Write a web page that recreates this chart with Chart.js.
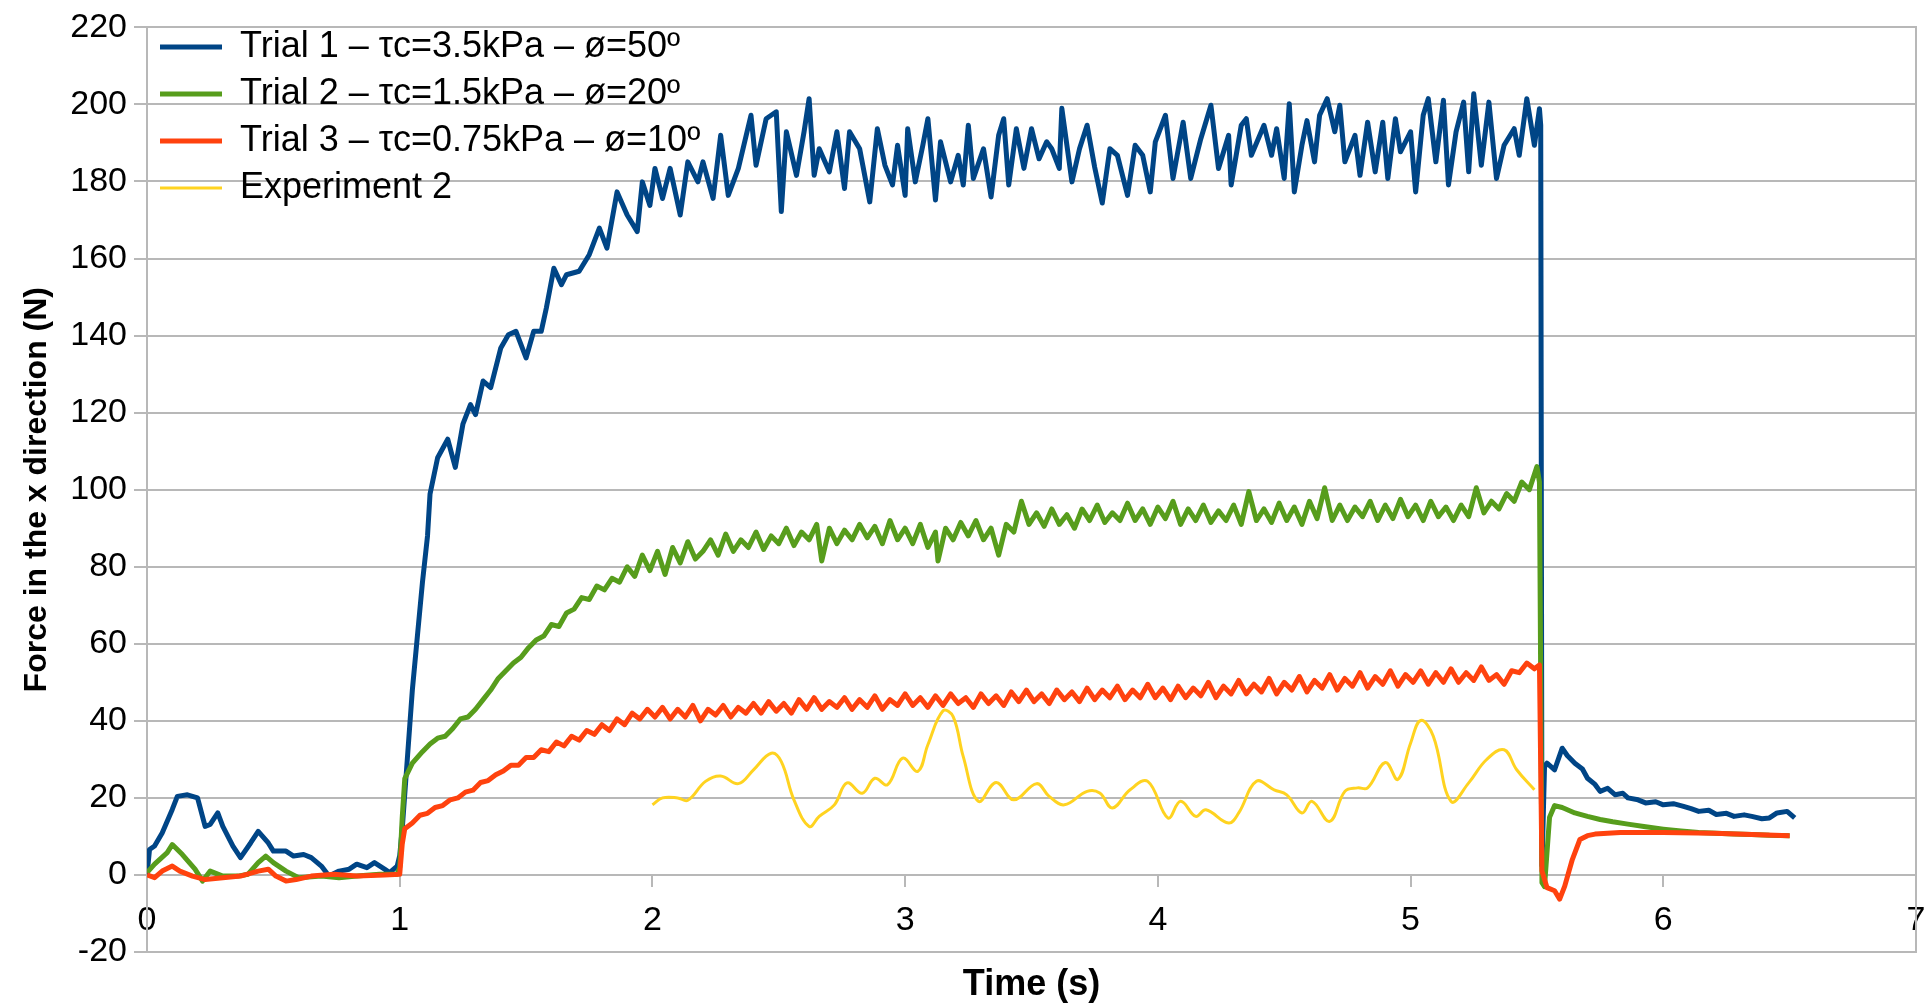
<!DOCTYPE html>
<html>
<head>
<meta charset="utf-8">
<script src="https://cdn.jsdelivr.net/npm/chart.js@4.4.1/dist/chart.umd.min.js"></script>
<style>
  html, body { margin: 0; padding: 0; background: #fff; }
  #wrap { width: 1931px; height: 1007px; }
</style>
</head>
<body>
<div id="wrap"><canvas id="forceChart"></canvas></div>
<script>
// Series names (legend)
const seriesNames = [
    'Trial 1 – τc=3.5kPa – ø=50º',
    'Trial 2 – τc=1.5kPa – ø=20º',
    'Trial 3 – τc=0.75kPa – ø=10º',
    'Experiment 2'
];

// [time (s), force (N)]
const trial1 = [
    [0,0],[0.01,6.6],[0.03,7.5],[0.06,10.9],[0.10,17.0],[0.12,20.4],[0.16,20.8],[0.20,20.0],[0.23,12.6],[0.25,13.1],
    [0.28,16.1],[0.30,12.6],[0.34,7.5],[0.37,4.5],[0.41,8.3],[0.44,11.3],[0.48,8.3],[0.50,6.2],[0.55,6.2],[0.58,4.9],
    [0.62,5.3],[0.65,4.5],[0.69,2.3],[0.72,-0.3],[0.76,1.0],[0.80,1.5],[0.83,2.8],[0.87,1.9],[0.90,3.2],[0.94,1.5],
    [0.96,0.6],[0.99,2.3],[1.00,5],[1.01,12],[1.03,30],[1.05,48],[1.07,62],[1.09,76],[1.11,88],[1.12,98.9],
    [1.15,108.3],[1.19,113.1],[1.22,105.8],[1.25,117.0],[1.28,122.1],[1.30,119.5],[1.33,128.2],[1.36,126.5],[1.40,136.8],[1.43,140.2],
    [1.46,141.1],[1.50,134.2],[1.53,141.1],[1.56,141.1],[1.58,147.1],[1.61,157.5],[1.64,153.2],[1.66,155.8],[1.71,156.7],[1.75,161.0],
    [1.79,167.9],[1.82,162.7],[1.86,177.3],[1.90,171.3],[1.94,167.0],[1.96,179.9],[1.99,173.8],[2.01,183.4],[2.04,175.6],[2.07,183.4],
    [2.11,171.3],[2.14,185.1],[2.18,179.9],[2.20,185.1],[2.24,175.6],[2.27,192.0],[2.30,176.4],[2.34,183.4],[2.39,197.2],[2.41,184.2],
    [2.45,196.3],[2.49,198.1],[2.51,172.2],[2.53,192.9],[2.57,181.6],[2.60,192.9],[2.62,201.5],[2.64,181.6],[2.66,188.5],[2.70,182.5],
    [2.73,192.9],[2.76,178.2],[2.78,192.9],[2.82,188.5],[2.86,174.7],[2.89,193.7],[2.92,184.2],[2.95,179.1],[2.97,189.4],[3.00,176.4],
    [3.01,193.7],[3.04,179.9],[3.07,189.4],[3.09,196.3],[3.12,175.2],[3.14,190.3],[3.18,179.9],[3.21,186.8],[3.23,179.1],[3.25,194.6],
    [3.27,180.8],[3.31,188.5],[3.34,176.0],[3.37,192.0],[3.39,196.3],[3.41,179.1],[3.44,193.7],[3.47,183.4],[3.50,193.7],[3.53,185.9],
    [3.56,190.3],[3.58,188.5],[3.61,183.4],[3.62,199.0],[3.66,179.9],[3.69,188.5],[3.72,194.6],[3.75,183.7],[3.78,174.4],[3.81,188.5],
    [3.84,186.8],[3.88,176.4],[3.91,189.4],[3.94,186.8],[3.97,177.3],[3.99,190.3],[4.03,197.2],[4.06,180.8],[4.10,195.4],[4.13,180.8],
    [4.17,191.1],[4.21,199.8],[4.24,183.4],[4.28,192.0],[4.29,179.1],[4.33,194.6],[4.35,196.3],[4.37,186.8],[4.42,194.6],[4.45,186.8],
    [4.47,193.7],[4.50,180.8],[4.52,200.2],[4.54,177.3],[4.57,189.4],[4.59,195.8],[4.62,185.1],[4.64,197.2],[4.67,201.5],[4.70,192.9],
    [4.72,199.8],[4.74,185.1],[4.78,192.0],[4.80,181.6],[4.83,195.4],[4.86,182.5],[4.89,195.4],[4.91,180.8],[4.94,196.3],[4.96,187.7],
    [5.00,192.9],[5.02,177.3],[5.05,197.2],[5.07,201.5],[5.10,185.1],[5.13,201.1],[5.15,179.1],[5.18,192.9],[5.21,200.6],[5.23,182.5],
    [5.25,202.8],[5.28,184.2],[5.31,200.6],[5.34,180.8],[5.37,189.4],[5.41,193.7],[5.43,186.8],[5.46,201.5],[5.49,189.4],[5.51,198.9],
    [5.515,194.6],[5.52,2.3],[5.53,28],[5.54,29],[5.57,27.3],[5.60,32.9],[5.62,31],[5.65,29],[5.68,27.5],[5.70,25.1],
    [5.73,23.5],[5.75,21.7],[5.78,22.5],[5.81,20.8],[5.84,21.2],[5.86,20.0],[5.90,19.5],[5.93,18.7],[5.97,19.0],[6.00,18.2],
    [6.04,18.5],[6.08,17.8],[6.11,17.2],[6.14,16.5],[6.18,16.8],[6.21,15.7],[6.25,16.0],[6.28,15.2],[6.32,15.6],[6.35,15.2],
    [6.39,14.6],[6.42,14.8],[6.45,16.1],[6.49,16.5],[6.52,14.8]
];

const trial2 = [
    [0,0.6],[0.03,2.8],[0.08,5.8],[0.10,7.9],[0.14,5.3],[0.19,1.5],[0.22,-1.6],[0.25,1.0],[0.30,-0.3],[0.36,-0.3],
    [0.40,0.2],[0.44,3.2],[0.47,4.9],[0.50,3.2],[0.55,1.0],[0.60,-0.7],[0.69,-0.3],[0.76,-0.7],[0.83,-0.3],[0.92,0.2],
    [0.99,0.2],[1.00,2],[1.01,15],[1.02,25],[1.05,29],[1.09,32],[1.12,34],[1.15,35.5],[1.18,36],[1.21,38],
    [1.24,40.5],[1.27,41],[1.30,43],[1.33,45.5],[1.36,48],[1.39,51],[1.42,53],[1.45,55],[1.48,56.5],[1.51,59],
    [1.54,61],[1.57,62],[1.60,65],[1.63,64.5],[1.66,68],[1.69,69],[1.72,72],[1.75,71.5],[1.78,75],[1.81,74],
    [1.84,77],[1.87,76],[1.90,80],[1.93,77.5],[1.96,83],[1.99,79],[2.02,84],[2.05,78],[2.08,85],[2.11,81],
    [2.14,86.5],[2.17,82],[2.20,84],[2.23,87],[2.26,83],[2.29,88.5],[2.32,84],[2.35,87],[2.38,85],[2.41,89],
    [2.44,84.5],[2.47,88],[2.50,86],[2.53,90],[2.56,85.5],[2.59,89],[2.62,87],[2.65,91],[2.67,81.5],[2.70,90],
    [2.73,86],[2.76,89.5],[2.79,87],[2.82,91],[2.85,87.5],[2.88,90.5],[2.91,86],[2.94,92],[2.97,87],[3.00,90],
    [3.03,86],[3.06,91],[3.09,85],[3.12,89],[3.13,81.5],[3.16,90],[3.19,87],[3.22,91.5],[3.25,88],[3.28,92],
    [3.31,87],[3.34,90],[3.37,83],[3.40,91],[3.43,89],[3.46,97],[3.49,91],[3.52,94],[3.55,90.5],[3.58,95],
    [3.61,91],[3.64,93.5],[3.67,90],[3.70,95],[3.73,92],[3.76,96],[3.79,91.5],[3.82,94],[3.85,92],[3.88,96.5],
    [3.91,92],[3.94,95],[3.97,91],[4.00,95.5],[4.03,92.5],[4.06,97],[4.09,91],[4.12,95],[4.15,92],[4.18,96],
    [4.21,91.5],[4.24,94.5],[4.27,92],[4.30,96],[4.33,91],[4.36,99.5],[4.39,92],[4.42,95],[4.45,91.5],[4.48,96.5],
    [4.51,92],[4.54,95.5],[4.57,91],[4.60,97],[4.63,92.5],[4.66,100.5],[4.69,92],[4.72,96],[4.75,92],[4.78,95.5],
    [4.81,93],[4.84,97],[4.87,92],[4.90,96],[4.93,92.5],[4.96,97.5],[4.99,93],[5.02,96],[5.05,92],[5.08,97],
    [5.11,93],[5.14,95.5],[5.17,92],[5.20,96],[5.23,93],[5.26,100.5],[5.29,94],[5.32,97],[5.35,95],[5.38,99],
    [5.41,97],[5.44,102],[5.47,100],[5.50,106],[5.51,102],[5.52,-2],[5.53,-3],[5.55,15],[5.57,18],[5.60,17.5],
    [5.65,16.1],[5.70,15.2],[5.75,14.4],[5.80,13.8],[5.86,13.2],[5.93,12.5],[6.00,11.9],[6.07,11.4],[6.14,11.0],[6.21,10.8],
    [6.28,10.6],[6.35,10.5],[6.42,10.3],[6.50,10.2]
];

const trial3 = [
    [0,0],[0.03,-0.7],[0.06,1.0],[0.10,2.3],[0.13,1.0],[0.18,-0.3],[0.23,-1.2],[0.30,-0.7],[0.37,-0.3],[0.44,1.0],
    [0.48,1.5],[0.51,-0.3],[0.55,-1.6],[0.59,-1.2],[0.65,-0.3],[0.74,0.2],[0.83,-0.3],[0.94,0],[1.00,0.2],[1.01,8],
    [1.02,12],[1.05,13.5],[1.08,15.5],[1.11,16],[1.14,17.5],[1.17,18],[1.20,19.5],[1.23,20],[1.26,21.5],[1.29,22],
    [1.32,24],[1.35,24.5],[1.38,26],[1.41,27],[1.44,28.5],[1.47,28.5],[1.50,30.5],[1.53,30.5],[1.56,32.5],[1.59,32],
    [1.62,34.5],[1.65,33.5],[1.68,36],[1.71,35],[1.74,37.5],[1.77,36.5],[1.80,39],[1.83,37.5],[1.86,40.5],[1.89,39],
    [1.92,42],[1.95,40.5],[1.98,43],[2.01,41],[2.04,43.5],[2.07,40.5],[2.10,43],[2.13,41],[2.16,44],[2.19,40],
    [2.22,43],[2.25,41.5],[2.28,44],[2.31,41],[2.34,43.5],[2.37,42],[2.40,44.5],[2.43,42],[2.46,45],[2.49,42.5],
    [2.52,44.5],[2.55,42],[2.58,45.5],[2.61,43],[2.64,46],[2.67,43],[2.70,45],[2.73,43.5],[2.76,46],[2.79,43],
    [2.82,45.5],[2.85,43.5],[2.88,46.5],[2.91,43],[2.94,45.5],[2.97,44],[3.00,47],[3.03,44],[3.06,46],[3.09,43.5],
    [3.12,46.5],[3.15,44],[3.18,47],[3.21,44.5],[3.24,46],[3.27,43.5],[3.30,47],[3.33,44.5],[3.36,46.5],[3.39,44],
    [3.42,47.5],[3.45,45],[3.48,48],[3.51,45],[3.54,47],[3.57,44.5],[3.60,48],[3.63,45.5],[3.66,47.5],[3.69,45],
    [3.72,48.5],[3.75,45.5],[3.78,48],[3.81,46],[3.84,49],[3.87,45.5],[3.90,48],[3.93,46],[3.96,49.5],[3.99,46],
    [4.02,48.5],[4.05,45.5],[4.08,49],[4.11,46],[4.14,48.5],[4.17,46.5],[4.20,50],[4.23,46],[4.26,49],[4.29,47],
    [4.32,50.5],[4.35,47],[4.38,49.5],[4.41,47.5],[4.44,51],[4.47,47],[4.50,50],[4.53,48],[4.56,51.5],[4.59,47.5],
    [4.62,50.5],[4.65,48.5],[4.68,52],[4.71,48],[4.74,51],[4.77,49],[4.80,52.5],[4.83,48.5],[4.86,51.5],[4.89,49.5],
    [4.92,53],[4.95,49],[4.98,52],[5.01,50],[5.04,53],[5.07,49.5],[5.10,52.5],[5.13,50],[5.16,53.5],[5.19,50],
    [5.22,52.5],[5.25,50.5],[5.28,54],[5.31,50.5],[5.34,52],[5.37,49.5],[5.40,53],[5.43,52.5],[5.46,55],[5.49,53.5],
    [5.51,54.5],[5.52,1],[5.54,-3.3],[5.57,-4.1],[5.59,-6.3],[5.61,-2.9],[5.64,4],[5.67,9.2],[5.70,10.2],[5.73,10.6],
    [5.83,11],[6.00,11],[6.20,10.8],[6.35,10.5],[6.50,10.2]
];

const experiment2 = [
    [2.00,18.2],[2.04,20.0],[2.10,20.0],[2.14,19.4],[2.21,24.3],[2.27,25.7],[2.34,23.7],[2.40,27.3],[2.47,31.6],[2.51,29.4],
    [2.56,19.5],[2.62,12.6],[2.66,15.2],[2.72,18.2],[2.77,23.9],[2.83,21.2],[2.88,25.1],[2.93,23.4],[2.99,30.3],[3.05,26.9],
    [3.09,33.8],[3.15,42.6],[3.19,41.1],[3.23,30.7],[3.29,19.1],[3.36,24.0],[3.43,19.5],[3.52,23.7],[3.57,20.4],[3.63,18.2],
    [3.72,21.7],[3.77,21.3],[3.82,17.4],[3.89,22.1],[3.96,24.3],[4.04,14.8],[4.09,19.1],[4.15,15.2],[4.19,16.9],[4.28,13.5],
    [4.32,16.1],[4.39,24.3],[4.46,22.1],[4.51,20.8],[4.57,16.1],[4.61,19.1],[4.68,13.9],[4.74,21.7],[4.79,22.6],[4.83,22.6],
    [4.90,29.2],[4.95,24.8],[5.00,34.2],[5.04,40.1],[5.09,36.0],[5.16,19.1],[5.23,23.9],[5.30,29.9],[5.37,32.5],[5.42,27.3],
    [5.49,22.1]
];

// Axis ranges
const xMin = 0, xMax = 7, xStep = 1;
const yMin = -20, yMax = 220, yStep = 20;

const seriesColors = ['#004586', '#579d1c', '#ff420e', '#ffd320'];
const seriesWidths = [5, 5, 5, 3];
const gridGray = '#b8b8b8';

Chart.defaults.font.family = '"Liberation Sans", Arial, sans-serif';
Chart.defaults.font.size = 34;
Chart.defaults.color = '#000';

function toPoints(pairs) {
    return pairs.map(p => ({ x: p[0], y: p[1] }));
}

const allSeries = [trial1, trial2, trial3, experiment2];
const datasets = allSeries.map((s, i) => ({
    label: seriesNames[i],
    data: toPoints(s),
    borderColor: seriesColors[i],
    backgroundColor: seriesColors[i],
    borderWidth: seriesWidths[i],
    pointRadius: 0,
    pointStyle: 'line',
    tension: i === 3 ? 0.4 : 0,
    borderJoinStyle: 'round',
    fill: false,
    order: 4 - i
}));

// legend sits inside the plot, top left
const legendPlace = {
    id: 'legendPlace',
    afterLayout(chart) {
        chart.legend.top = 18;
        chart.legend.left = chart.chartArea.left + 2;
    }
};

new Chart(document.getElementById('forceChart'), {
    type: 'line',
    data: { datasets },
    plugins: [legendPlace],
    options: {
        responsive: true,
        maintainAspectRatio: false,
        animation: false,
        layout: { padding: { top: 24, right: 15, left: 0, bottom: 0 } },
        plugins: {
            legend: {
                position: 'chartArea',
                align: 'start',
                labels: {
                    usePointStyle: true,
                    pointStyleWidth: 62,
                    padding: 11,
                    font: { size: 36 },
                    color: '#000',
                    sort: (a, b) => a.datasetIndex - b.datasetIndex
                }
            },
            tooltip: { enabled: false }
        },
        scales: {
            x: {
                type: 'linear',
                position: { y: 0 },
                min: xMin, max: xMax,
                ticks: { stepSize: xStep, padding: 14, font: { size: 34 } },
                grid: { drawOnChartArea: false, drawTicks: true, tickLength: 11, color: gridGray, lineWidth: 2 },
                border: { display: true, color: gridGray, width: 2 },
                // axis sits inside the plot, it must not push the plot edges in
                afterFit(scale) { scale.paddingLeft = 0; scale.paddingRight = 0; }
            },
            xTitle: {
                type: 'linear',
                position: 'bottom',
                min: xMin, max: xMax,
                ticks: { display: false },
                grid: { display: false, drawTicks: false },
                border: { display: false },
                title: { display: true, text: 'Time (s)', font: { size: 36, weight: 'bold' }, padding: { top: 0, bottom: 0 } },
                afterFit(scale) { scale.height = 55; }
            },
            y: {
                type: 'linear',
                position: 'left',
                min: yMin, max: yMax,
                ticks: { stepSize: yStep, padding: 7, font: { size: 34 } },
                grid: { color: gridGray, lineWidth: 2, tickLength: 13, drawTicks: true },
                border: { display: true, color: gridGray, width: 2 },
                title: { display: true, text: 'Force in the x direction (N)', font: { size: 32, weight: 'bold' }, padding: { top: 18, bottom: 0 } },
                afterFit(scale) { scale.width = 147; }
            },
            yWall: {
                type: 'linear',
                position: 'right',
                min: yMin, max: yMax,
                ticks: { display: false },
                grid: { display: false, drawTicks: false },
                border: { display: true, color: gridGray, width: 2 },
                afterFit(scale) { scale.width = 0; }
            }
        }
    }
});
</script>
</body>
</html>
